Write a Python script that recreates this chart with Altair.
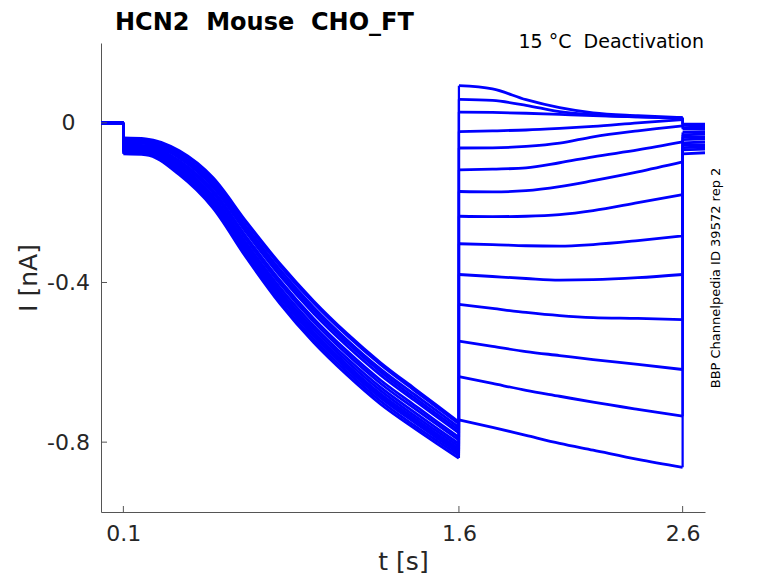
import altair as alt
import pandas as pd

# ---- time bases (s) ----
t_pre = [0.0, 0.1]
baseline = [0.0, 0.0]
t_cond = [0.1, 0.2, 0.35, 0.5, 0.65, 0.8, 0.95, 1.1, 1.25, 1.4, 1.5, 1.6]
t_test = [1.6, 1.75, 1.9, 2.05, 2.2, 2.4, 2.6]
t_tail = [2.6, 2.7]

# ---- conditioning pulse current (nA), one list per sweep ----
cond = [
    [-0.072, -0.074, -0.121, -0.202, -0.325, -0.438, -0.534, -0.616, -0.689, -0.750, -0.789, -0.827],
    [-0.040, -0.042, -0.073, -0.141, -0.252, -0.358, -0.451, -0.533, -0.606, -0.670, -0.712, -0.754],
    [-0.062, -0.064, -0.106, -0.183, -0.302, -0.413, -0.508, -0.590, -0.663, -0.725, -0.765, -0.804],
    [-0.050, -0.052, -0.088, -0.160, -0.275, -0.383, -0.477, -0.559, -0.632, -0.695, -0.736, -0.777],
    [-0.078, -0.080, -0.130, -0.213, -0.338, -0.453, -0.550, -0.632, -0.705, -0.765, -0.803, -0.840],
    [-0.055, -0.057, -0.095, -0.169, -0.286, -0.395, -0.490, -0.572, -0.645, -0.707, -0.748, -0.788],
    [-0.068, -0.070, -0.115, -0.194, -0.315, -0.428, -0.524, -0.606, -0.679, -0.740, -0.779, -0.817],
    [-0.044, -0.046, -0.079, -0.148, -0.261, -0.368, -0.462, -0.544, -0.617, -0.680, -0.721, -0.763],
    [-0.058, -0.060, -0.100, -0.175, -0.293, -0.403, -0.498, -0.580, -0.653, -0.715, -0.755, -0.795],
    [-0.075, -0.077, -0.126, -0.207, -0.331, -0.446, -0.542, -0.624, -0.697, -0.758, -0.796, -0.833],
    [-0.038, -0.040, -0.070, -0.137, -0.248, -0.353, -0.446, -0.528, -0.601, -0.665, -0.707, -0.750],
    [-0.065, -0.067, -0.111, -0.188, -0.309, -0.421, -0.516, -0.598, -0.671, -0.733, -0.772, -0.811],
    [-0.047, -0.049, -0.084, -0.154, -0.268, -0.376, -0.469, -0.551, -0.624, -0.688, -0.729, -0.770],
    [-0.070, -0.072, -0.118, -0.198, -0.320, -0.433, -0.529, -0.611, -0.684, -0.745, -0.784, -0.822],
]

# ---- test pulse current (nA) ----
test = [
    [0.093, 0.085, 0.058, 0.038, 0.025, 0.018, 0.013],
    [0.059, 0.056, 0.044, 0.028, 0.020, 0.015, 0.013],
    [0.027, 0.026, 0.024, 0.021, 0.018, 0.015, 0.011],
    [-0.022, -0.020, -0.018, -0.014, -0.009, 0.000, 0.008],
    [-0.063, -0.0625, -0.059, -0.051, -0.035, -0.020, -0.0075],
    [-0.118, -0.116, -0.113, -0.100, -0.085, -0.068, -0.048],
    [-0.172, -0.173, -0.170, -0.160, -0.145, -0.123, -0.098],
    [-0.234, -0.235, -0.234, -0.230, -0.220, -0.200, -0.180],
    [-0.303, -0.305, -0.308, -0.309, -0.305, -0.295, -0.283],
    [-0.380, -0.385, -0.390, -0.394, -0.393, -0.388, -0.380],
    [-0.455, -0.465, -0.475, -0.483, -0.488, -0.490, -0.493],
    [-0.547, -0.560, -0.573, -0.583, -0.593, -0.605, -0.618],
    [-0.636, -0.653, -0.670, -0.685, -0.700, -0.718, -0.735],
    [-0.744, -0.763, -0.783, -0.803, -0.820, -0.843, -0.863],
]

# ---- return to holding (nA) ----
tail = [
    [-0.003, -0.004], [-0.004, -0.003], [-0.006, -0.005], [-0.012, -0.010],
    [-0.016, -0.015], [-0.024, -0.022], [-0.030, -0.028], [-0.036, -0.035],
    [-0.042, -0.040], [-0.050, -0.048], [-0.056, -0.055], [-0.062, -0.060],
    [-0.068, -0.066], [-0.078, -0.075],
]

x_ticks = [0.1, 1.6, 2.6]
y_ticks = [0.0, -0.4, -0.8]

title_text = "HCN2\u00a0\u00a0Mouse\u00a0\u00a0CHO_FT"
cond_text = "15\u00a0°C\u00a0\u00a0Deactivation"
side_text = "BBP Channelpedia ID 39572 rep 2"

# segments of each sweep (drawn smooth), plus the vertical jumps between them
rows = []
jumps = []
for k in range(len(cond)):
    segs = [("a", t_pre, baseline), ("b", t_cond, cond[k]),
            ("c", t_test, test[k]), ("d", t_tail, tail[k])]
    for name, ts, vs in segs:
        for j, (t, v) in enumerate(zip(ts, vs)):
            rows.append({"key": f"{k + 1}{name}", "step": j, "t": t, "I": v})
    for (n0, ts0, vs0), (n1, ts1, vs1) in zip(segs[:-1], segs[1:]):
        jumps.append({"t": ts1[0], "I": vs0[-1], "I2": vs1[0]})
df = pd.DataFrame(rows)
jdf = pd.DataFrame(jumps)

W, H = 604, 469
FONT = "DejaVu Sans"
AX = "#555555"
TXT = "#262626"
BLUE = "#0000ff"
SW = 2.8
x_scale = alt.Scale(domain=[0, 2.7], nice=False, zero=False)
y_scale = alt.Scale(domain=[-0.975, 0.2], nice=False, zero=False)

x_axis = alt.Axis(
    values=x_ticks, format=".1f", grid=False, ticks=False, tickSize=0,
    domainColor=AX, domainWidth=1, labelFont=FONT, labelFontSize=22,
    labelColor=TXT, labelPadding=11, labelFlush=False, labelOverlap=False,
    title="t [s]", titleFont=FONT, titleFontSize=25, titleFontWeight="normal",
    titleColor=TXT, titleX=W / 2, titleY=57, titleAlign="center",
    titleBaseline="alphabetic")
y_axis = alt.Axis(
    values=y_ticks, grid=False, ticks=False, tickSize=0,
    labelExpr="datum.value == 0 ? '0' : '-' + format(abs(datum.value), '.1f')",
    domainColor=AX, domainWidth=1, labelFont=FONT, labelFontSize=22,
    labelColor=TXT, labelPadding=33, labelAlign="center", labelBaseline="middle",
    labelFlush=False, labelOverlap=False,
    title="I [nA]", titleFont=FONT, titleFontSize=25, titleFontWeight="normal",
    titleColor=TXT, titleX=-65, titleY=H / 2, titleAngle=270, titleAlign="center",
    titleBaseline="alphabetic")

lines = alt.Chart(df).mark_line(color=BLUE, strokeWidth=SW, clip=True,
                                interpolate="monotone").encode(
    x=alt.X("t:Q", scale=x_scale, axis=x_axis),
    y=alt.Y("I:Q", scale=y_scale, axis=y_axis),
    detail="key:N",
    order="step:Q",
)

jump_rules = alt.Chart(jdf).mark_rule(color=BLUE, strokeWidth=SW * 0.8).encode(
    x=alt.X("t:Q", scale=x_scale), y=alt.Y("I:Q", scale=y_scale), y2="I2:Q")

ytick = alt.Chart(pd.DataFrame({"I": y_ticks})).mark_rule(color=AX, strokeWidth=1).encode(
    y=alt.Y("I:Q", scale=y_scale), x=alt.value(0), x2=alt.value(6))
xtick = alt.Chart(pd.DataFrame({"t": x_ticks})).mark_rule(color=AX, strokeWidth=1).encode(
    x=alt.X("t:Q", scale=x_scale), y=alt.value(H), y2=alt.value(H - 6))

title = alt.Chart(pd.DataFrame({"s": [title_text]})).mark_text(
    font=FONT, fontSize=24, fontWeight="bold", align="left", baseline="alphabetic",
    color="#000000").encode(text="s:N", x=alt.value(14), y=alt.value(-13))
cond_lbl = alt.Chart(pd.DataFrame({"s": [cond_text]})).mark_text(
    font=FONT, fontSize=19, align="right", baseline="alphabetic",
    color="#000000").encode(text="s:N", x=alt.value(603), y=alt.value(5))
side = alt.Chart(pd.DataFrame({"s": [side_text]})).mark_text(
    font=FONT, fontSize=13, align="center", baseline="middle", angle=270,
    color="#000000").encode(text="s:N", x=alt.value(615), y=alt.value(235))

chart = alt.layer(lines, jump_rules, ytick, xtick, title, cond_lbl, side).properties(
    width=W, height=H,
    autosize=alt.AutoSizeParams(type="none"),
    padding={"left": 93, "top": 35, "right": 60, "bottom": 63},
    background="white",
).configure_view(stroke="transparent")

chart.save("out.html", embed_options={"renderer": "svg", "actions": False})
